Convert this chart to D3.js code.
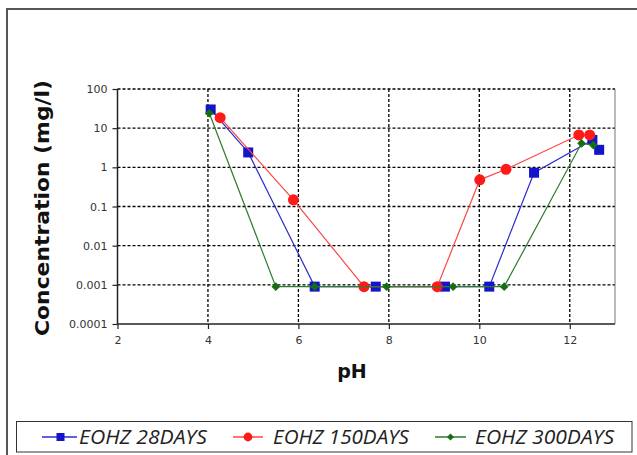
<!DOCTYPE html>
<html>
<head>
<meta charset="utf-8">
<script src="https://cdnjs.cloudflare.com/ajax/libs/d3/7.8.5/d3.min.js"></script>
<style>
    body { margin: 0; background: #fff; }
    svg { display: block; }
    .tick-label { font-family: "DejaVu Sans", sans-serif; font-size: 11px; fill: #333; }
    .axis-title { font-family: "DejaVu Sans", sans-serif; font-weight: bold; font-size: 19px; fill: #111; }
    .legend-text { font-family: "Open Sans", sans-serif; font-style: italic; font-size: 19.5px; fill: #222; }
</style>
</head>
<body>
<div id="chart"></div>
<script>
// pH values and concentrations (mg/l)
const ph_28 = [4.06, 4.89, 6.36, 7.71, 9.24, 10.22, 11.21, 12.50, 12.65];
const conc_28 = [30, 2.4, 0.0009, 0.0009, 0.0009, 0.0009, 0.73, 5, 2.8];

const ph_150 = [4.27, 5.89, 7.45, 9.07, 10.01, 10.59, 12.20, 12.44];
const conc_150 = [18.5, 0.148, 0.0009, 0.0009, 0.48, 0.89, 6.7, 6.7];

const ph_300 = [4.03, 5.50, 6.36, 7.95, 9.42, 10.55, 12.26, 12.52];
const conc_300 = [24, 0.0009, 0.0009, 0.0009, 0.0009, 0.0009, 4.1, 3.7];

const series_names = ["EOHZ 28DAYS", "EOHZ 150DAYS", "EOHZ 300DAYS"];

const x_ticks = [2, 4, 6, 8, 10, 12];
const y_ticks = [0.0001, 0.001, 0.01, 0.1, 1, 10, 100];
const y_tick_labels = ["0.0001", "0.001", "0.01", "0.1", "1", "10", "100"];

const width = 637, height = 455;

var series = [
    {name: series_names[0], ph: ph_28, conc: conc_28, line: "#2b2bd0", fill: "#1414c8", shape: "square"},
    {name: series_names[1], ph: ph_150, conc: conc_150, line: "#ff4545", fill: "#ff1a1a", shape: "circle"},
    {name: series_names[2], ph: ph_300, conc: conc_300, line: "#2e7a2e", fill: "#127012", shape: "diamond"}
];

const svg = d3.select("#chart")
    .append("svg")
    .attr("width", width)
    .attr("height", height);

// outer frame (left + top only visible)
svg.append("path")
    .attr("d", "M7,455 L7,9 L637,9")
    .attr("fill", "none")
    .attr("stroke", "#555")
    .attr("stroke-width", 2);

var xScale = d3.scaleLinear()
    .domain([2, 13])
    .range([117.5, 615]);

var yScale = d3.scaleLog()
    .domain([0.0001, 100])
    .range([324, 89]);

var plot = svg.append("g");

/* сітка */
plot.selectAll(".hgrid")
    .data(y_ticks.slice(1))
    .enter().append("line")
    .attr("class", "hgrid")
    .attr("x1", xScale(2))
    .attr("x2", xScale(13))
    .attr("y1", function(d){ return yScale(d); })
    .attr("y2", function(d){ return yScale(d); })
    .attr("stroke", "#000")
    .attr("stroke-width", 1.3)
    .attr("stroke-dasharray", "3,2");

plot.selectAll(".vgrid")
    .data(x_ticks.slice(1))
    .enter().append("line")
    .attr("class", "vgrid")
    .attr("x1", function(d){ return xScale(d); })
    .attr("x2", function(d){ return xScale(d); })
    .attr("y1", yScale(100))
    .attr("y2", yScale(0.0001))
    .attr("stroke", "#000")
    .attr("stroke-width", 1.3)
    .attr("stroke-dasharray", "3,2");

// right edge of plot area
plot.append("line")
    .attr("x1", xScale(13)).attr("x2", xScale(13))
    .attr("y1", yScale(100)).attr("y2", yScale(0.0001))
    .attr("stroke", "#777")
    .attr("stroke-width", 1);

/* осі */
var yAxis = d3.axisLeft(yScale)
    .tickValues(y_ticks)
    .tickSize(5)
    .tickPadding(5)
    .tickFormat(function(d, i){ return y_tick_labels[i]; });

var xAxis = d3.axisBottom(xScale)
    .tickValues(x_ticks)
    .tickSize(5)
    .tickPadding(7)
    .tickFormat(d3.format("d"));

var gy = svg.append("g")
    .attr("transform", "translate(" + xScale(2) + ",0)")
    .call(yAxis);

var gx = svg.append("g")
    .attr("transform", "translate(0," + yScale(0.0001) + ")")
    .call(xAxis);

[gx, gy].forEach(function(g){
    g.select(".domain").attr("stroke", "#222").attr("stroke-width", 1.5);
    g.selectAll(".tick line").attr("stroke", "#222").attr("stroke-width", 1.2);
    g.selectAll(".tick text").attr("class", "tick-label").attr("fill", null).attr("font-family", null).attr("font-size", null);
});
gx.select(".domain").attr("d", "M" + xScale(2) + ",0H" + xScale(13));
gy.select(".domain").attr("d", "M0," + yScale(0.0001) + "V" + yScale(100));

/* лінії і маркери */
var line = d3.line()
    .x(function(d){ return xScale(d[0]); })
    .y(function(d){ return yScale(d[1]); });

function drawMarker(g, shape, fill, x, y, scale){
    var k = scale || 1;
    if (shape === "square") {
        g.append("rect")
            .attr("x", x - 5 * k).attr("y", y - 5 * k)
            .attr("width", 10 * k).attr("height", 10 * k)
            .attr("fill", fill);
    } else if (shape === "circle") {
        g.append("circle")
            .attr("cx", x).attr("cy", y).attr("r", 5.5 * k)
            .attr("fill", fill);
    } else {
        g.append("path")
            .attr("d", d3.symbol().type(d3.symbolDiamond2).size(48 * k * k)())
            .attr("transform", "translate(" + x + "," + y + ")")
            .attr("fill", fill);
    }
}

series.forEach(function(s){
    var pts = s.ph.map(function(p, i){ return [p, s.conc[i]]; });
    var g = plot.append("g");
    g.append("path")
        .datum(pts)
        .attr("d", line)
        .attr("fill", "none")
        .attr("stroke", s.line)
        .attr("stroke-width", 1.2);
    pts.forEach(function(p){
        drawMarker(g, s.shape, s.fill, xScale(p[0]), yScale(p[1]));
    });
});

/* підписи осей */
svg.append("text")
    .attr("class", "axis-title")
    .attr("text-anchor", "middle")
    .attr("transform", "translate(49,208) rotate(-90)")
    .attr("textLength", 256)
    .attr("lengthAdjust", "spacingAndGlyphs")
    .text("Concentration (mg/l)");

svg.append("text")
    .attr("class", "axis-title")
    .attr("text-anchor", "middle")
    .attr("x", 352)
    .attr("y", 378)
    .text("pH");

/* легенда */
svg.append("rect")
    .attr("x", 16.5).attr("y", 421.5)
    .attr("width", 615.5).attr("height", 30.5)
    .attr("fill", "#fff")
    .attr("stroke", "#333")
    .attr("stroke-width", 1);

var legend_pos = [
    {x0: 42, x1: 77, tx: 79, tw: 128},
    {x0: 233, x1: 263, tx: 273, tw: 136},
    {x0: 435, x1: 466, tx: 475, tw: 139}
];

series.forEach(function(s, i){
    var p = legend_pos[i];
    var g = svg.append("g");
    g.append("line")
        .attr("x1", p.x0).attr("x2", p.x1)
        .attr("y1", 437).attr("y2", 437)
        .attr("stroke", s.line)
        .attr("stroke-width", 1.5);
    drawMarker(g, s.shape, s.fill, (p.x0 + p.x1) / 2 + (i === 0 ? 1 : 0), 437, 0.8);
    g.append("text")
        .attr("class", "legend-text")
        .attr("x", p.tx)
        .attr("y", 444)
        .attr("textLength", p.tw)
        .attr("lengthAdjust", "spacingAndGlyphs")
        .text(s.name);
});
</script>
</body>
</html>
